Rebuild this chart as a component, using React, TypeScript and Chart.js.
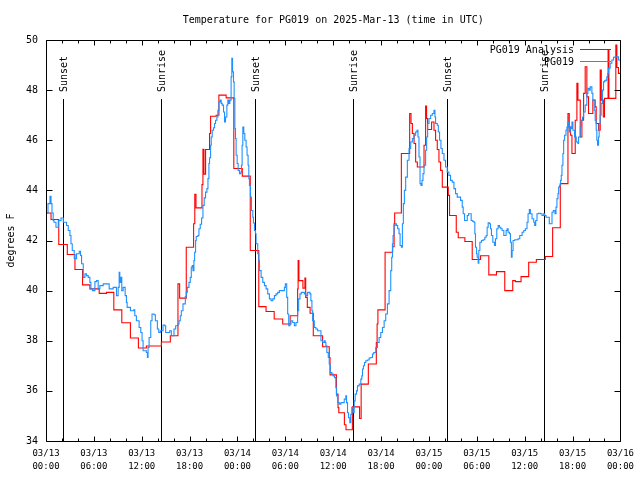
import React, { useEffect, useRef } from "react";
import { Chart, registerables } from "chart.js";

Chart.register(...registerables);

const FONT = "'DejaVu Sans Mono', 'Liberation Mono', monospace";

const chartTitle = "Temperature for PG019 on 2025-Mar-13 (time in UTC)";
const yAxisTitle = "degrees F";
const analysisLabel = "PG019 Analysis";
const obsLabel = "PG019";

// hours since 2025-03-13 00:00 UTC
const analysisHours = [0, 0.63, 1.6, 2.67, 3.63, 4.58, 5.5, 6.67, 7.58, 8.5, 9.5, 10.58, 11.58, 12.58, 14.46, 15.58, 16.54, 16.75, 17.58, 18.5, 18.65, 18.8, 19.55, 19.67, 19.8, 20.0, 20.5, 20.63, 21.33, 21.67, 22.58, 23.54, 24.6, 25.6, 26.67, 27.58, 28.6, 29.67, 30.6, 31.54, 31.6, 31.7, 32.2, 32.45, 32.55, 32.75, 33.1, 33.5, 34.67, 35.5, 35.6, 36.4, 36.6, 36.7, 37.4, 37.6, 38.4, 39.3, 39.5, 40.4, 41.4, 41.5, 41.6, 42.5, 43.45, 43.63, 43.7, 44.54, 45.58, 45.75, 45.92, 46.13, 46.33, 46.54, 47.38, 47.58, 47.7, 47.83, 48.33, 48.63, 48.83, 49.04, 49.25, 49.46, 49.67, 50.42, 50.58, 51.42, 51.67, 52.5, 53.42, 54.46, 55.5, 56.46, 57.5, 58.5, 58.83, 59.54, 60.5, 61.46, 62.58, 63.5, 64.46, 65.42, 65.58, 65.75, 65.92, 66.33, 66.54, 66.67, 66.96, 67.17, 67.38, 67.58, 67.79, 68.0, 68.54, 68.83, 68.96, 69.25, 69.46, 69.6, 69.85, 70.0, 70.45, 70.55, 71.42, 71.55, 71.75, 72];
const analysisTemps = [43.1, 42.84, 41.84, 41.44, 40.84, 40.23, 40.07, 39.89, 39.93, 39.23, 38.72, 38.11, 37.71, 37.79, 37.95, 38.2, 40.27, 39.7, 41.73, 42.67, 43.84, 43.3, 44.23, 45.64, 44.65, 45.63, 46.27, 46.96, 47.0, 47.8, 47.69, 44.87, 44.57, 41.6, 39.36, 39.17, 38.87, 38.67, 39.0, 40.07, 41.2, 40.4, 40.1, 40.5, 39.73, 39.33, 39.1, 38.2, 37.76, 37.33, 36.64, 35.87, 35.33, 35.13, 34.65, 34.45, 35.36, 34.9, 36.27, 37.07, 37.93, 38.67, 39.23, 41.53, 41.75, 42.67, 43.1, 45.47, 47.07, 46.67, 46.27, 45.87, 45.13, 44.93, 45.8, 47.36, 46.87, 46.43, 46.73, 46.4, 46.0, 45.63, 45.13, 44.8, 44.13, 43.8, 43.0, 42.33, 42.11, 41.96, 41.24, 41.39, 40.63, 40.76, 40.0, 40.4, 40.36, 40.56, 41.13, 41.24, 41.36, 42.51, 44.27, 47.07, 46.53, 46.2, 45.47, 46.8, 48.27, 47.6, 46.13, 46.8, 47.87, 48.93, 47.73, 47.07, 47.6, 47.33, 46.67, 46.4, 48.8, 47.6, 46.93, 47.67, 49.6, 47.67, 49.8, 48.9, 48.67, 48.67];

const obsHours = [0, 0.25, 0.5, 0.63, 0.75, 0.9, 1.0, 1.25, 1.54, 1.88, 2.17, 2.58, 2.79, 3.0, 3.13, 3.29, 3.54, 3.83, 4.17, 4.33, 4.46, 4.67, 4.88, 5.08, 5.29, 5.5, 5.63, 5.83, 6.13, 6.33, 6.54, 6.75, 7.17, 7.5, 7.92, 8.2, 8.42, 8.83, 9.04, 9.17, 9.25, 9.38, 9.5, 9.67, 9.92, 10.08, 10.17, 10.58, 11.0, 11.13, 11.33, 11.67, 11.88, 12.04, 12.17, 12.58, 12.71, 12.79, 12.92, 13.13, 13.29, 13.54, 13.71, 13.96, 14.13, 14.33, 14.67, 14.88, 15.0, 15.29, 15.5, 15.71, 16.04, 16.25, 16.54, 16.67, 16.83, 16.96, 17.17, 17.46, 17.58, 17.71, 17.92, 18.08, 18.21, 18.33, 18.42, 18.54, 18.63, 18.75, 18.83, 19.04, 19.17, 19.33, 19.5, 19.67, 19.83, 20.0, 20.17, 20.3, 20.42, 20.5, 20.63, 20.71, 20.83, 21.0, 21.13, 21.25, 21.42, 21.54, 21.67, 21.83, 21.96, 22.08, 22.25, 22.38, 22.5, 22.67, 22.79, 22.92, 23.04, 23.2, 23.29, 23.38, 23.5, 23.58, 23.67, 23.75, 23.83, 23.96, 24.08, 24.25, 24.42, 24.5, 24.58, 24.67, 24.79, 24.92, 25.08, 25.2, 25.33, 25.42, 25.5, 25.63, 25.75, 25.92, 26.0, 26.13, 26.25, 26.33, 26.54, 26.67, 26.75, 26.96, 27.17, 27.38, 27.58, 27.79, 28.0, 28.21, 28.42, 28.63, 28.83, 29.04, 29.25, 29.5, 29.67, 29.88, 30.0, 30.17, 30.29, 30.42, 30.58, 30.71, 30.92, 31.13, 31.33, 31.54, 31.67, 31.83, 32.0, 32.17, 32.38, 32.58, 32.79, 32.92, 33.08, 33.2, 33.33, 33.42, 33.63, 33.83, 34.04, 34.25, 34.46, 34.67, 34.88, 35.0, 35.08, 35.2, 35.38, 35.5, 35.63, 35.83, 36.0, 36.17, 36.33, 36.42, 36.58, 36.75, 36.96, 37.17, 37.38, 37.58, 37.67, 37.79, 37.92, 38.08, 38.2, 38.33, 38.5, 38.63, 38.75, 38.92, 39.04, 39.25, 39.46, 39.58, 39.67, 39.79, 39.92, 40.08, 40.29, 40.5, 40.71, 40.92, 41.08, 41.33, 41.54, 41.75, 41.96, 42.17, 42.38, 42.58, 42.79, 43.0, 43.21, 43.33, 43.42, 43.5, 43.63, 43.75, 43.92, 44.08, 44.25, 44.38, 44.54, 44.67, 44.79, 44.92, 45.08, 45.29, 45.5, 45.71, 45.92, 46.13, 46.33, 46.5, 46.62, 46.75, 46.88, 47.0, 47.13, 47.25, 47.38, 47.58, 47.71, 47.83, 48.0, 48.21, 48.42, 48.63, 48.75, 48.83, 49.04, 49.17, 49.33, 49.5, 49.67, 49.88, 50.08, 50.29, 50.5, 50.7, 50.92, 51.13, 51.33, 51.54, 51.75, 51.96, 52.17, 52.29, 52.46, 52.63, 52.8, 52.96, 53.13, 53.29, 53.46, 53.63, 53.75, 53.83, 53.96, 54.04, 54.17, 54.25, 54.38, 54.58, 54.79, 55.0, 55.17, 55.29, 55.42, 55.58, 55.71, 55.83, 56.0, 56.21, 56.33, 56.5, 56.67, 56.83, 57.0, 57.17, 57.38, 57.5, 57.67, 57.79, 57.92, 58.08, 58.21, 58.33, 58.42, 58.54, 58.75, 58.96, 59.17, 59.38, 59.67, 59.88, 60.08, 60.29, 60.42, 60.58, 60.71, 60.92, 61.13, 61.25, 61.38, 61.54, 61.75, 61.96, 62.17, 62.38, 62.5, 62.67, 62.92, 63.08, 63.25, 63.42, 63.58, 63.79, 63.92, 64.04, 64.17, 64.25, 64.38, 64.5, 64.58, 64.67, 64.79, 64.88, 65.0, 65.17, 65.29, 65.42, 65.5, 65.58, 65.71, 65.83, 65.92, 66.04, 66.25, 66.46, 66.67, 66.75, 66.96, 67.08, 67.25, 67.38, 67.58, 67.79, 67.92, 68.08, 68.21, 68.42, 68.54, 68.71, 68.83, 68.96, 69.04, 69.13, 69.25, 69.33, 69.46, 69.58, 69.75, 69.88, 70.0, 70.17, 70.29, 70.42, 70.5, 70.71, 70.92, 71.13, 71.33, 71.54, 71.75, 72.0];
const obsTemps = [43.09, 43.47, 43.76, 43.47, 43.1, 42.8, 42.73, 42.53, 42.8, 42.9, 42.73, 42.6, 42.4, 42.2, 41.87, 41.6, 41.27, 41.47, 41.57, 41.4, 41.07, 40.53, 40.67, 40.6, 40.53, 40.33, 40.07, 40.0, 40.36, 40.4, 40.07, 40.2, 40.27, 40.27, 40.07, 40.07, 40.13, 39.8, 40.13, 40.73, 40.33, 40.53, 40.0, 40.13, 39.8, 39.53, 39.33, 39.2, 39.23, 39.0, 38.8, 38.53, 38.33, 38.0, 37.6, 37.53, 37.33, 37.73, 38.13, 38.8, 39.07, 39.04, 38.8, 38.47, 38.33, 38.4, 38.63, 38.6, 38.33, 38.33, 38.4, 38.2, 38.47, 38.6, 38.67, 38.8, 39.0, 39.2, 39.47, 39.76, 39.93, 40.13, 40.33, 40.53, 40.93, 41.0, 40.8, 41.2, 41.53, 42.0, 42.16, 42.2, 42.47, 42.65, 42.9, 43.4, 43.7, 43.93, 44.07, 44.47, 45.07, 45.3, 45.8, 46.13, 46.4, 46.5, 46.67, 46.8, 46.93, 47.2, 47.53, 47.6, 47.47, 47.4, 47.13, 46.73, 46.93, 47.4, 47.6, 47.47, 47.6, 48.53, 49.27, 48.73, 48.33, 47.67, 46.47, 46.07, 45.4, 45.07, 44.8, 44.67, 44.73, 45.0, 45.8, 46.53, 46.27, 46.0, 45.73, 45.4, 45.0, 44.47, 44.2, 43.73, 43.2, 42.93, 42.7, 42.4, 42.27, 41.87, 41.47, 41.2, 40.8, 40.53, 40.33, 40.2, 40.07, 39.87, 39.67, 39.6, 39.67, 39.8, 39.87, 39.93, 40.0, 40.0, 40.0, 40.13, 40.27, 39.73, 39.07, 38.6, 38.67, 38.8, 38.73, 38.6, 38.73, 39.2, 39.67, 39.87, 39.93, 39.93, 39.87, 39.8, 39.93, 39.93, 39.87, 39.6, 39.2, 38.8, 38.53, 38.47, 38.4, 38.4, 38.0, 37.93, 38.0, 37.93, 37.8, 37.53, 37.33, 37.07, 36.73, 36.67, 36.6, 36.53, 36.13, 35.8, 35.53, 35.47, 35.53, 35.53, 35.67, 35.8, 35.53, 35.13, 34.93, 34.73, 35.07, 35.33, 35.13, 35.6, 35.87, 36.0, 36.2, 36.27, 36.47, 36.6, 36.87, 37.0, 37.13, 37.2, 37.23, 37.31, 37.33, 37.47, 37.53, 37.73, 37.93, 38.13, 38.33, 38.53, 38.8, 39.07, 39.47, 40.0, 40.8, 41.33, 41.87, 42.2, 42.6, 42.67, 42.6, 42.47, 42.27, 41.8, 41.73, 42.67, 43.47, 44.0, 44.53, 45.2, 45.67, 45.93, 46.07, 46.2, 46.33, 46.4, 46.13, 45.33, 44.27, 44.2, 44.4, 44.67, 45.0, 45.6, 46.13, 46.67, 46.87, 47.0, 47.07, 47.2, 46.93, 46.67, 46.6, 46.33, 46.0, 45.67, 45.47, 45.2, 44.93, 44.73, 44.6, 44.4, 44.33, 44.07, 43.87, 43.73, 43.73, 43.6, 43.33, 43.07, 42.8, 42.8, 43.0, 43.07, 43.07, 42.8, 42.77, 42.73, 42.27, 41.73, 41.47, 41.33, 41.09, 41.6, 41.93, 42.0, 42.03, 42.13, 42.2, 42.53, 42.71, 42.67, 42.47, 42.2, 41.93, 41.8, 42.07, 42.47, 42.6, 42.53, 42.47, 42.4, 42.2, 42.2, 42.4, 42.47, 42.33, 42.27, 41.93, 41.33, 41.6, 42.0, 42.03, 42.03, 42.07, 42.2, 42.33, 42.4, 42.47, 42.73, 43.07, 43.23, 43.07, 42.87, 42.73, 42.6, 42.8, 43.07, 43.09, 43.07, 43.0, 43.07, 43.0, 42.93, 42.93, 42.67, 42.67, 43.13, 43.2, 43.07, 43.33, 43.67, 43.87, 44.13, 44.2, 44.4, 44.6, 45.0, 45.47, 46.0, 46.2, 46.4, 46.53, 46.73, 46.53, 46.33, 46.53, 46.47, 46.73, 46.4, 46.13, 45.93, 45.87, 46.13, 46.53, 46.8, 46.93, 47.13, 47.4, 47.87, 48.07, 48.0, 48.13, 47.87, 47.6, 47.2, 46.8, 46.4, 46.0, 45.8, 46.13, 46.67, 47.0, 47.47, 48.0, 48.33, 48.37, 48.4, 48.53, 48.67, 48.87, 49.07, 49.2, 49.31, 49.33, 49.33, 49.2, 49.07];

const sunHours = [2.17, 14.43, 26.2, 38.47, 50.23, 62.4];
const sunLabels = ["Sunset", "Sunrise", "Sunset", "Sunrise", "Sunset", "Sunrise"];

const xTickHours = [0, 6, 12, 18, 24, 30, 36, 42, 48, 54, 60, 66, 72];
const xTickDates = ["03/13", "03/13", "03/13", "03/13", "03/14", "03/14", "03/14", "03/14", "03/15", "03/15", "03/15", "03/15", "03/16"];
const xTickTimes = ["00:00", "06:00", "12:00", "18:00", "00:00", "06:00", "12:00", "18:00", "00:00", "06:00", "12:00", "18:00", "00:00"];
const xMinorTickHours = [0, 2, 4, 6, 8, 10, 12, 14, 16, 18, 20, 22, 24, 26, 28, 30, 32, 34, 36, 38, 40, 42, 44, 46, 48, 50, 52, 54, 56, 58, 60, 62, 64, 66, 68, 70, 72];
const yTickValues = [34, 36, 38, 40, 42, 44, 46, 48, 50];

const RED = "#ff0000";
const BLUE = "#1e90ff";

const decorPlugin = {
  id: "gnuplotDecor",
  beforeDatasetsDraw(chart: any) {
    const { ctx, chartArea: a, scales } = chart;
    const xs = scales.x;
    ctx.save();
    ctx.strokeStyle = "#000";
    ctx.lineWidth = 1;
    ctx.fillStyle = "#000";
    ctx.font = `10px ${FONT}`;
    sunHours.forEach((h, i) => {
      const x = Math.round(xs.getPixelForValue(h)) + 0.5;
      ctx.beginPath();
      ctx.moveTo(x, 99);
      ctx.lineTo(x, a.bottom);
      ctx.stroke();
      ctx.save();
      ctx.translate(x + 1, 92);
      ctx.rotate(-Math.PI / 2);
      ctx.textAlign = "left";
      ctx.textBaseline = "middle";
      ctx.fillText(sunLabels[i], 0, 0);
      ctx.restore();
    });
    ctx.restore();
  },
  afterDatasetsDraw(chart: any) {
    const { ctx, chartArea: a, scales } = chart;
    const xs = scales.x;
    const ys = scales.y;
    ctx.save();
    ctx.strokeStyle = "#000";
    ctx.lineWidth = 1;
    const L = Math.round(a.left) + 0.5;
    const R = Math.round(a.right) + 0.5;
    const T = Math.round(a.top) + 0.5;
    const B = Math.round(a.bottom) + 0.5;
    ctx.beginPath();
    ctx.rect(L, T, R - L, B - T);
    ctx.stroke();
    ctx.beginPath();
    yTickValues.forEach((v) => {
      const y = Math.round(ys.getPixelForValue(v)) + 0.5;
      ctx.moveTo(L, y);
      ctx.lineTo(L + 6, y);
      ctx.moveTo(R, y);
      ctx.lineTo(R - 6, y);
    });
    xMinorTickHours.forEach((h) => {
      const x = Math.round(xs.getPixelForValue(h)) + 0.5;
      const len = xTickHours.includes(h) ? 5 : 3;
      ctx.moveTo(x, B);
      ctx.lineTo(x, B - len);
      ctx.moveTo(x, T);
      ctx.lineTo(x, T + len);
    });
    ctx.stroke();

    // title
    ctx.fillStyle = "#000";
    ctx.font = `10px ${FONT}`;
    ctx.textAlign = "center";
    ctx.textBaseline = "middle";
    ctx.fillText(chartTitle, (a.left + a.right) / 2, 20);

    // y axis title
    ctx.save();
    ctx.translate(11, (a.top + a.bottom) / 2);
    ctx.rotate(-Math.PI / 2);
    ctx.fillText(yAxisTitle, 0, 0);
    ctx.restore();

    // legend
    const entries = [
      { label: analysisLabel, color: RED, y: 50 },
      { label: obsLabel, color: BLUE, y: 62 },
    ];
    entries.forEach((e) => {
      ctx.textAlign = "right";
      ctx.fillStyle = "#000";
      ctx.fillText(e.label, 574, e.y);
      ctx.strokeStyle = e.color;
      ctx.beginPath();
      ctx.moveTo(580, Math.round(e.y) - 0.5);
      ctx.lineTo(611, Math.round(e.y) - 0.5);
      ctx.stroke();
    });
    ctx.restore();
  },
};

export default function App() {
  const canvasRef = useRef<HTMLCanvasElement | null>(null);

  useEffect(() => {
    document.body.style.margin = "0";
    const canvas = canvasRef.current;
    if (!canvas) return;
    const analysisData = analysisHours.map((h, i) => ({ x: h, y: analysisTemps[i] }));
    const obsData = obsHours.map((h, i) => ({ x: h, y: obsTemps[i] }));
    const chart = new Chart(canvas, {
      type: "line",
      data: {
        datasets: [
          {
            label: analysisLabel,
            data: analysisData,
            borderColor: RED,
            borderWidth: 1.1,
            pointRadius: 0,
            stepped: "before",
            fill: false,
            order: 1,
          },
          {
            label: obsLabel,
            data: obsData,
            borderColor: BLUE,
            borderWidth: 1.1,
            pointRadius: 0,
            stepped: "before",
            fill: false,
            order: 0,
          },
        ],
      },
      options: {
        responsive: false,
        animation: false,
        devicePixelRatio: 1,
        layout: { padding: { top: 40, right: 19, left: 0, bottom: 0 } },
        plugins: {
          legend: { display: false },
          title: { display: false },
          tooltip: { enabled: false },
        },
        scales: {
          x: {
            type: "linear",
            min: 0,
            max: 72,
            grid: { display: false, drawTicks: false },
            border: { display: false },
            afterFit: (s: any) => {
              s.height = 39;
            },
            afterBuildTicks: (s: any) => {
              s.ticks = xTickHours.map((h) => ({ value: h }));
            },
            ticks: {
              autoSkip: false,
              maxRotation: 0,
              minRotation: 0,
              padding: 6,
              color: "#000",
              font: { family: FONT, size: 9, lineHeight: "13px" },
              callback: (value: any) => {
                const i = xTickHours.indexOf(Number(value));
                return i >= 0 ? [xTickDates[i], xTickTimes[i]] : "";
              },
            },
          },
          y: {
            type: "linear",
            min: 34,
            max: 50,
            grid: { display: false, drawTicks: false },
            border: { display: false },
            afterFit: (s: any) => {
              s.width = 46;
            },
            afterBuildTicks: (s: any) => {
              s.ticks = yTickValues.map((v) => ({ value: v }));
            },
            ticks: {
              padding: 8,
              color: "#000",
              font: { family: FONT, size: 10 },
            },
          },
        },
      },
      plugins: [decorPlugin],
    });
    return () => chart.destroy();
  }, []);

  return (
    <div style={{ width: 640, height: 480, background: "#fff" }}>
      <canvas ref={canvasRef} width={640} height={480} style={{ display: "block" }} />
    </div>
  );
}
